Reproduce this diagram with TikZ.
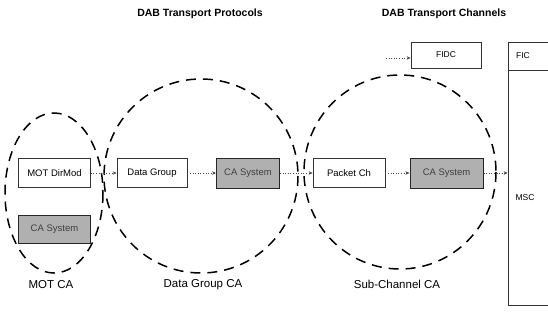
\documentclass[tikz,border=0pt]{standalone}
\usepackage{fontspec}
\setmainfont{Liberation Sans}
\usetikzlibrary{arrows.meta}
\begin{document}
\begin{tikzpicture}[x=1pt,y=-1pt,
  box/.style={draw=black!80,line width=0.7pt,fill=white,minimum height=29pt,inner sep=0pt,font=\fontsize{9.5}{11}\selectfont},
  cabox/.style={draw=black!85,line width=1pt,fill=gray!62,minimum height=29pt,inner sep=0pt,text=black!75,font=\fontsize{9.5}{11}\selectfont},
  group/.style={draw=black,line width=1.5pt,dash pattern=on 10pt off 7pt},
  link/.style={draw=black!70,line width=0.6pt,dotted,-{Stealth[length=4pt,width=3.5pt]}},
  glabel/.style={font=\fontsize{11.5}{13}\selectfont},
  title/.style={font=\bfseries\fontsize{10.5}{12}\selectfont}]
\useasboundingbox (0,0) rectangle (548,329);
% titles
\node[title] (t1) at (200,14) {DAB Transport Protocols};
\node[title] (t2) at (444,14) {DAB Transport Channels};
% group ellipses
\draw[group] (54,193) ellipse [x radius=49,y radius=80];
\draw[group] (201,176) ellipse [x radius=97,y radius=97];
\draw[group] (400,172) ellipse [x radius=96,y radius=97];
% boxes
\node[box,minimum width=72pt] (mot) at (54.5,173) {MOT DirMod};
\node[cabox,minimum width=72pt,minimum height=28pt] (ca1) at (54.5,229) {CA System};
\node[box,minimum width=70pt] (dg) at (152,173) {Data Group};
\node[cabox,minimum width=63pt,minimum height=30pt] (ca2) at (248,173) {CA System};
\node[box,minimum width=72pt] (pc) at (349,173) {Packet Ch};
\node[cabox,minimum width=73pt,minimum height=30pt] (ca3) at (446.5,173) {CA System};
\node[box,minimum width=70pt,minimum height=26pt,font=\fontsize{8.5}{10}\selectfont] (fidc) at (446,55) {FIDC};
% channel box (extends past the right edge)
\node[draw=black!80,line width=0.7pt,minimum width=50pt,minimum height=263pt,inner sep=0pt] (chan) at (533,173.5) {};
\draw[draw=black!80,line width=0.7pt] (chan.west |- 0,70) -- (chan.east |- 0,70);
\node[font=\fontsize{8.5}{10}\selectfont] (fic) at (523,56) {FIC};
\node[font=\fontsize{8.5}{10}\selectfont] (msc) at (525,198) {MSC};
% group labels
\node[glabel] (l1) at (51,285) {MOT CA};
\node[glabel] (l2) at (203,285) {Data Group CA};
\node[glabel] (l3) at (397,284) {Sub-Channel CA};
% connectors
\coordinate (fin) at (386,58);
\draw[link] (fin) -- (fidc.west |- fin);
\draw[link] (mot) -- (dg);
\draw[link] (dg) -- (ca2);
\draw[link] (ca2) -- (pc);
\draw[link] (pc) -- (ca3);
\draw[link] (ca3) -- (chan.west |- ca3);
\end{tikzpicture}
\end{document}
